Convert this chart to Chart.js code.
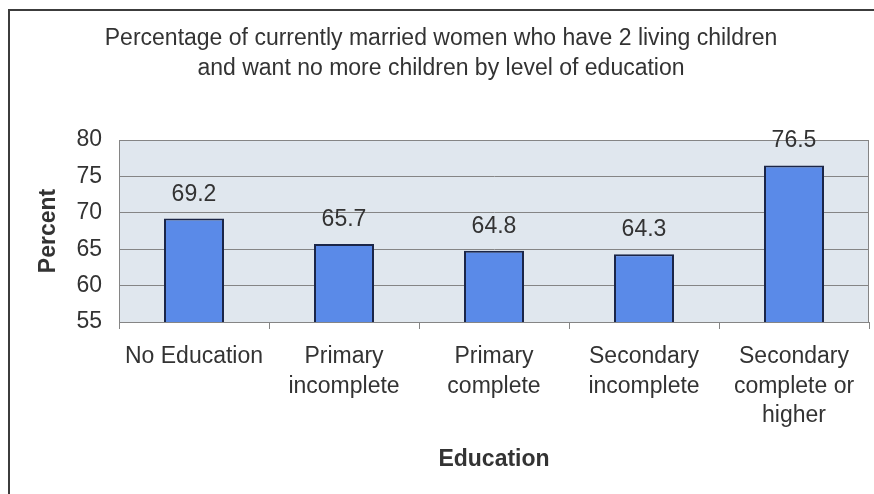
<!DOCTYPE html>
<html>
<head>
<meta charset="utf-8">
<title>Women with 2 living children who want no more, by education</title>
<script src="https://cdn.jsdelivr.net/npm/chart.js@4/dist/chart.umd.min.js"></script>
<style>
  html, body { margin: 0; padding: 0; background: #ffffff; overflow: hidden; }
  #frame {
    position: absolute; left: 8px; top: 9px; width: 1000px; height: 1000px;
    border-left: 2px solid #3c3c3c; border-top: 2px solid #3c3c3c;
  }
  #wrap { position: absolute; left: 0; top: 0; width: 874px; height: 494px; }
</style>
</head>
<body>
<div id="frame"></div>
<div id="wrap"><canvas id="chart" width="874" height="494"></canvas></div>
<script>
// Education categories (multi-line labels as drawn under the axis)
const categories = [
  ['No Education'],
  ['Primary', 'incomplete'],
  ['Primary', 'complete'],
  ['Secondary', 'incomplete'],
  ['Secondary', 'complete or', 'higher']
];
// Percent of currently married women with 2 living children wanting no more
const percentValues = [69.2, 65.7, 64.8, 64.3, 76.5];
// Y axis range and tick step
const yMin = 55;
const yMax = 80;
const yStep = 5;
const titleLines = [
  'Percentage of currently married women who have 2 living children',
  'and want no more children by level of education'
];

const FONT = '"Liberation Sans", Arial, sans-serif';
const TEXT = '#333333';
const SIZE = 23;

// Plot-area background and border
const plotFrame = {
  id: 'plotFrame',
  beforeDraw(chart) {
    const { ctx, chartArea: a } = chart;
    ctx.save();
    ctx.fillStyle = '#e0e7ee';
    ctx.fillRect(a.left, a.top, a.right - a.left, a.bottom - a.top);
    ctx.restore();
  },
  afterDatasetsDraw(chart) {
    const { ctx, chartArea: a } = chart;
    ctx.save();
    ctx.strokeStyle = '#858585';
    ctx.lineWidth = 1;
    ctx.strokeRect(a.left + 0.5, a.top + 0.5, a.right - a.left - 1, a.bottom - a.top);
    ctx.restore();
  }
};

// Chart heading (two centred lines)
const heading = {
  id: 'heading',
  afterDraw(chart) {
    const { ctx } = chart;
    ctx.save();
    ctx.fillStyle = TEXT;
    ctx.font = SIZE + 'px ' + FONT;
    ctx.textAlign = 'center';
    ctx.textBaseline = 'alphabetic';
    titleLines.forEach((line, i) => ctx.fillText(line, 441, 45 + i * 30));
    ctx.restore();
  }
};

// Value labels above each bar
const valueLabels = {
  id: 'valueLabels',
  afterDatasetsDraw(chart) {
    const { ctx } = chart;
    const meta = chart.getDatasetMeta(0);
    ctx.save();
    ctx.fillStyle = TEXT;
    ctx.font = SIZE + 'px ' + FONT;
    ctx.textAlign = 'center';
    ctx.textBaseline = 'alphabetic';
    meta.data.forEach((bar, i) => {
      ctx.fillText(percentValues[i].toFixed(1), bar.x, bar.y - 18);
    });
    ctx.restore();
  }
};

new Chart(document.getElementById('chart'), {
  type: 'bar',
  data: {
    labels: categories,
    datasets: [{
      data: percentValues,
      backgroundColor: '#5a8ae8',
      borderColor: '#1b2648',
      borderWidth: 2,
      borderSkipped: false,
      barPercentage: 0.4,
      categoryPercentage: 1.0
    }]
  },
  options: {
    responsive: false,
    animation: false,
    events: [],
    layout: { padding: { left: 0, top: 140, right: 5, bottom: 0 } },
    plugins: {
      legend: { display: false },
      title: { display: false },
      tooltip: { enabled: false }
    },
    scales: {
      x: {
        afterFit(scale) { scale.height = 172; },
        grid: {
          offset: true,
          drawOnChartArea: false,
          drawTicks: true,
          tickLength: 7,
          color: '#858585'
        },
        border: { display: true, color: '#858585' },
        ticks: {
          color: TEXT,
          padding: 13,
          maxRotation: 0,
          autoSkip: false,
          font: { family: FONT, size: SIZE, lineHeight: 1.28 }
        },
        title: {
          display: true,
          text: 'Education',
          color: TEXT,
          padding: { top: 0, bottom: 21 },
          font: { family: FONT, size: SIZE, weight: 'bold' }
        }
      },
      y: {
        min: yMin,
        max: yMax,
        afterFit(scale) { scale.width = 119; },
        grid: {
          drawTicks: false,
          color: '#858585',
          lineWidth: 1
        },
        border: { display: true, color: '#858585' },
        ticks: {
          stepSize: yStep,
          color: TEXT,
          padding: 17,
          font: { family: FONT, size: SIZE }
        },
        title: {
          display: true,
          text: 'Percent',
          color: TEXT,
          padding: { top: 35, bottom: 0 },
          font: { family: FONT, size: SIZE, weight: 'bold' }
        }
      }
    }
  },
  plugins: [plotFrame, valueLabels, heading]
});
</script>
</body>
</html>
